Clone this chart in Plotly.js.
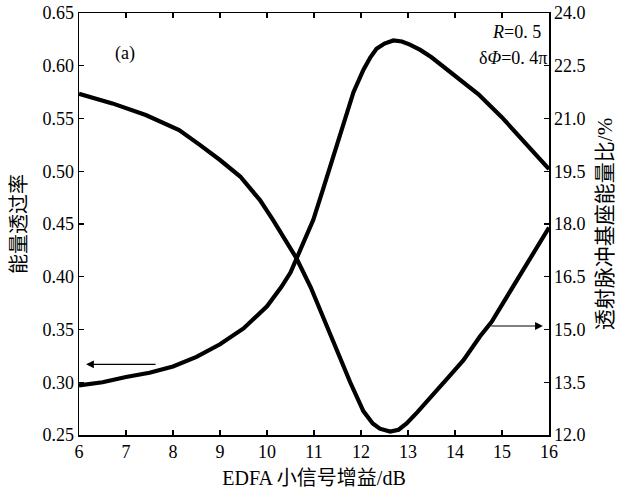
<!DOCTYPE html>
<html><head><meta charset="utf-8">
<script src="https://cdn.plot.ly/plotly-3.0.1.min.js"></script>
<style>body{margin:0;background:#fff}#c{width:624px;height:496px}</style>
</head><body><div id="c"></div>
<script>
// Energy transmittance (left axis)
const gainT = [6, 6.5, 7, 7.5, 8, 8.5, 9, 9.5, 10, 10.3, 10.5, 10.63, 10.985, 11.2, 11.45, 11.59, 11.84, 12.05, 12.2, 12.33, 12.5, 12.69, 12.87, 13.04, 13.26, 13.5, 14, 14.5, 15, 15.5, 16];
const transmit = [0.297, 0.300, 0.305, 0.309, 0.315, 0.324, 0.336, 0.351, 0.372, 0.390, 0.404, 0.4175, 0.454, 0.484, 0.520, 0.541, 0.575, 0.596, 0.608, 0.616, 0.621, 0.624, 0.623, 0.620, 0.615, 0.608, 0.591, 0.573, 0.551, 0.527, 0.502];
// Pedestal energy ratio (right axis, %)
const gainP = [6, 6.71, 7.42, 8.13, 8.57, 9.0, 9.43, 9.85, 10.13, 10.42, 10.63, 10.93, 11.34, 11.77, 12.05, 12.25, 12.4, 12.62, 12.8, 12.97, 13.2, 13.54, 13.9, 14.18, 14.53, 14.78, 15.1, 15.53, 16];
const pedestal = [21.70, 21.43, 21.10, 20.67, 20.25, 19.82, 19.35, 18.68, 18.11, 17.50, 17.02, 16.20, 14.85, 13.50, 12.68, 12.33, 12.18, 12.10, 12.15, 12.33, 12.65, 13.14, 13.70, 14.13, 14.80, 15.22, 15.93, 16.88, 17.90];

const xTicks = [6,7,8,9,10,11,12,13,14,15,16];
const yTicks = [0.25,0.30,0.35,0.40,0.45,0.50,0.55,0.60,0.65];
const y2Ticks = [12.0,13.5,15.0,16.5,18.0,19.5,21.0,22.5,24.0];

const serif = 'Liberation Serif, DejaVu Serif, serif';
const cjk = 'Liberation Serif, Noto Sans CJK SC, serif';

const traces = [
  {x: gainT, y: transmit, type: 'scatter', mode: 'lines', line: {color: '#000', width: 4.2, shape: 'linear'}, yaxis: 'y', hoverinfo: 'skip'},
  {x: gainP, y: pedestal, type: 'scatter', mode: 'lines', line: {color: '#000', width: 4.2, shape: 'linear'}, yaxis: 'y2', hoverinfo: 'skip'}
];

const axisCommon = {showgrid: false, zeroline: false, showline: true, linecolor: '#000', linewidth: 1.5,
  ticks: 'inside', ticklen: 5, tickwidth: 1.3, tickcolor: '#000',
  tickfont: {family: serif, size: 18, color: '#000'}};

const layout = {
  width: 624, height: 496,
  margin: {l: 79, r: 75, t: 13, b: 61},
  paper_bgcolor: '#fff', plot_bgcolor: '#fff',
  showlegend: false,
  xaxis: Object.assign({}, axisCommon, {range: [6, 16], tickvals: xTicks, ticktext: xTicks.map(String), mirror: 'ticks',
    title: {text: 'EDFA 小信号增益/dB', font: {family: cjk, size: 20, color: '#000'}, standoff: 10}}),
  yaxis: Object.assign({}, axisCommon, {range: [0.25, 0.65], tickvals: yTicks, ticktext: yTicks.map(v => v.toFixed(2)),
    title: {text: '能量透过率', font: {family: cjk, size: 20, color: '#000'}, standoff: 10}}),
  yaxis2: Object.assign({}, axisCommon, {range: [12, 24], overlaying: 'y', side: 'right', tickvals: y2Ticks, ticktext: y2Ticks.map(v => v.toFixed(1)),
    title: {text: '透射脉冲基座能量比/%', font: {family: cjk, size: 21, color: '#000'}, standoff: 12}}),
  annotations: [
    {x: 6.15, y: 0.317, ax: 7.66, ay: 0.317, xref: 'x', yref: 'y', axref: 'x', ayref: 'y', showarrow: true, arrowhead: 2, arrowsize: 1.3, arrowwidth: 1.2, arrowcolor: '#000', text: ''},
    {x: 15.87, y: 15.1, ax: 14.74, ay: 15.1, xref: 'x', yref: 'y2', axref: 'x', ayref: 'y2', showarrow: true, arrowhead: 2, arrowsize: 1.3, arrowwidth: 1.2, arrowcolor: '#000', text: ''},
    {x: 6.98, y: 0.612, xref: 'x', yref: 'y', text: '(a)', showarrow: false, font: {family: serif, size: 18, color: '#000'}},
    {x: 15.88, y: 0.632, xref: 'x', yref: 'y', xanchor: 'right', text: '<i>R</i>=0. 5', showarrow: false, font: {family: serif, size: 18, color: '#000'}},
    {x: 16.0, y: 0.607, xref: 'x', yref: 'y', xanchor: 'right', text: 'δ<i>Φ</i>=0. 4π', showarrow: false, font: {family: serif, size: 18, color: '#000'}}
  ]
};

Plotly.newPlot('c', traces, layout, {displayModeBar: false, staticPlot: true});
</script>
</body></html>
